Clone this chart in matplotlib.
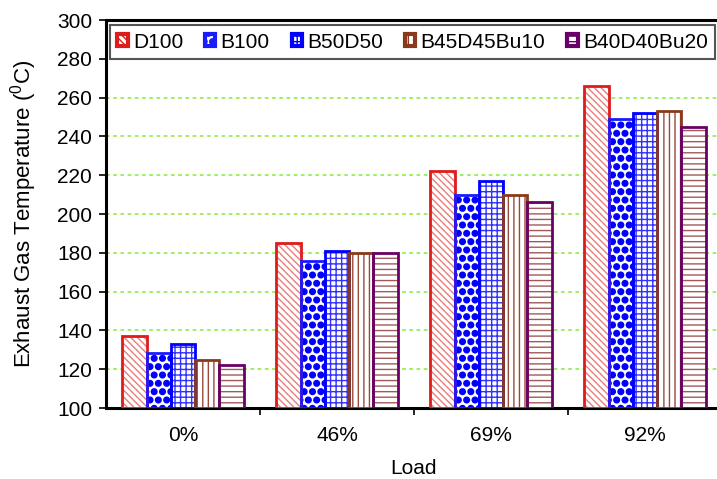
import numpy as np
import matplotlib
matplotlib.use('Agg')
import matplotlib.pyplot as plt
import matplotlib.patches as mpatches
from matplotlib import hatch as mhatch

# bigger filled dots for the '.' hatch
mhatch.SmallFilledCircles.size = 0.34

plt.rcParams['font.family'] = ['Liberation Sans', 'DejaVu Sans']
plt.rcParams['mathtext.default'] = 'regular'
plt.rcParams['hatch.linewidth'] = 1.0

loads = ['0%', '46%', '69%', '92%']
fuels = ['D100', 'B100', 'B50D50', 'B45D45Bu10', 'B40D40Bu20']
d100 = [137, 185, 222, 266]
b100 = [128.5, 176, 210, 249]
b50d50 = [133, 181, 217, 252]
b45d45bu10 = [124.5, 180, 210, 253]
b40d40bu20 = [122, 180, 206, 245]
series = [d100, b100, b50d50, b45d45bu10, b40d40bu20]

edge_cols = ['#dd1c1c', '#1a1aff', '#0000ff', '#8a3a1c', '#690069']
hatch_cols = ['#ea7c7c', '#0000ff', '#3030ff', '#9a4a3a', '#a05a5a']
hatches = ['\\\\\\\\\\', '..', '+++', '|||', '---']

fs = 15

F = plt.figure(figsize=(7.17, 4.79), dpi=100)
ax = F.add_axes([106/717., 71/479., 616/717., 388/479.])

x = np.arange(len(loads))
w = 0.158
for i, vals in enumerate(series):
    xpos = x + (i - 2)*w
    h = np.array(vals) - 100
    ax.bar(xpos, h, w, bottom=100, color='white', edgecolor=hatch_cols[i],
           hatch=hatches[i], linewidth=0, zorder=3)
    ax.bar(xpos, h, w, bottom=100, fill=False, edgecolor=edge_cols[i],
           linewidth=2.0, zorder=4)

ax.set_ylim(100, 300)
ax.set_xlim(-0.5, len(loads) - 0.5)
ax.set_yticks(np.arange(100, 301, 20))
for yv in np.arange(120, 280, 20):
    ax.axhline(yv, color='#96ee55', lw=1.3, ls=(0, (2, 2)), zorder=1)

# group boundary ticks, labels in between
ax.set_xticks(np.arange(0.5, len(loads) - 0.5, 1.0))
ax.set_xticklabels([])
ax.set_xticks(x, minor=True)
ax.set_xticklabels(loads, minor=True)
ax.tick_params(axis='x', which='minor', length=0, pad=13, labelsize=fs)
ax.tick_params(axis='x', which='major', length=5, width=1.2, direction='out')
ax.tick_params(axis='y', length=5, width=1.2, pad=5, labelsize=fs)

for s in ['left', 'bottom', 'top']:
    ax.spines[s].set_linewidth(2.2)
ax.spines['right'].set_visible(False)

ax.set_xlabel('Load', fontsize=fs, labelpad=10)
ax.set_ylabel('Exhaust Gas Temperature ($^0$C)', fontsize=16, labelpad=13)

handles = [mpatches.Patch(facecolor='white', edgecolor=edge_cols[i],
                          hatch=hatches[i], linewidth=3)
           for i in range(len(fuels))]
leg = ax.legend(handles, fuels, loc='lower left', mode='expand', ncol=5,
                bbox_to_anchor=(4/616., 0.9, 605/616., 0.092),
                borderaxespad=0, fontsize=fs, handlelength=0.5,
                handleheight=0.5, handletextpad=0.25, fancybox=False,
                framealpha=1, edgecolor='#555555', borderpad=0.35)
leg.get_frame().set_linewidth(1.5)
leg.set_zorder(5)

F.savefig('out.png', dpi=100)
plt.close()
